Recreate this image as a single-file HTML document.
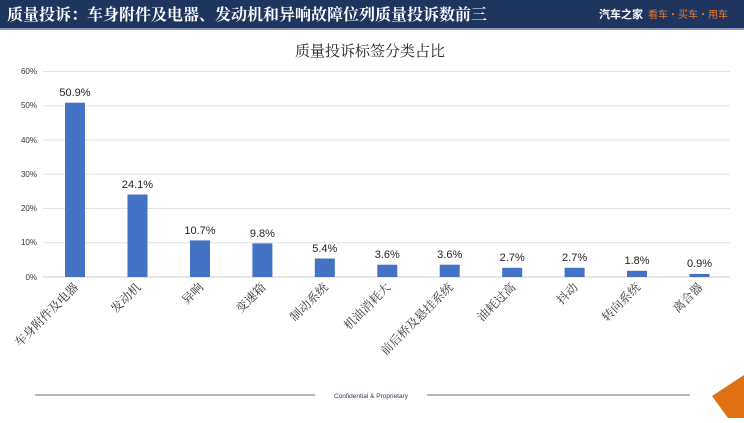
<!DOCTYPE html>
<html><head><meta charset="utf-8"><style>
body{margin:0;width:744px;height:418px;overflow:hidden;background:#fff;font-family:"Liberation Sans","Noto Sans CJK SC",sans-serif}
</style></head><body>
<svg width="744" height="418" xmlns="http://www.w3.org/2000/svg">
<rect x="0" y="0" width="744" height="28" fill="#1e3560"/>
<rect x="0" y="28" width="744" height="2" fill="#8a9bb8"/>
<text x="7" y="20" fill="#fff" font-size="16" font-family="Noto Serif CJK SC,serif" font-weight="bold">质量投诉：车身附件及电器、发动机和异响故障位列质量投诉数前三</text>
<text x="599" y="18" fill="#fff" font-size="11" font-weight="bold" font-family="Noto Sans CJK SC,sans-serif">汽车之家</text>
<text x="648" y="18" fill="#e8782a" font-size="10" font-family="Noto Sans CJK SC,sans-serif">看车·买车·用车</text>
<text x="370" y="56" text-anchor="middle" font-size="15" fill="#222" font-family="Noto Serif CJK SC,serif">质量投诉标签分类占比</text>
<g font-size="8" fill="#333" text-anchor="end">
<g stroke="#e2e2e2" stroke-width="1">
<line x1="43" x2="730" y1="71.5" y2="71.5"/><line x1="43" x2="730" y1="105.75" y2="105.75"/><line x1="43" x2="730" y1="140" y2="140"/><line x1="43" x2="730" y1="174.25" y2="174.25"/><line x1="43" x2="730" y1="208.5" y2="208.5"/><line x1="43" x2="730" y1="242.75" y2="242.75"/><line x1="43" x2="730" y1="277" y2="277" stroke="#ccc"/>
</g>
<text x="37" y="74">60%</text><text x="37" y="108">50%</text><text x="37" y="143">40%</text><text x="37" y="177">30%</text><text x="37" y="211">20%</text><text x="37" y="245">10%</text><text x="37" y="280">0%</text>
</g>
<g fill="#4472c4">
<rect x="65" y="102.7" width="20" height="174.3"/>
<rect x="127.5" y="194.5" width="20" height="82.5"/>
<rect x="190" y="240.4" width="20" height="36.6"/>
<rect x="252.4" y="243.4" width="20" height="33.6"/>
<rect x="314.8" y="258.5" width="20" height="18.5"/>
<rect x="377.3" y="264.7" width="20" height="12.3"/>
<rect x="439.7" y="264.7" width="20" height="12.3"/>
<rect x="502.2" y="267.8" width="20" height="9.2"/>
<rect x="564.6" y="267.8" width="20" height="9.2"/>
<rect x="627" y="270.8" width="20" height="6.2"/>
<rect x="689.5" y="273.9" width="20" height="3.1"/>
</g>
<g font-size="11" fill="#222" text-anchor="middle">
<text x="75" y="96">50.9%</text><text x="137.5" y="188">24.1%</text><text x="200" y="234">10.7%</text><text x="262.4" y="237">9.8%</text><text x="324.8" y="252">5.4%</text><text x="387.3" y="258">3.6%</text><text x="449.7" y="258">3.6%</text><text x="512.2" y="261">2.7%</text><text x="574.6" y="261">2.7%</text><text x="637" y="264">1.8%</text><text x="699.5" y="267">0.9%</text>
</g>
<g font-size="12" fill="#333" text-anchor="end" font-family="Noto Serif CJK SC,serif">
<text transform="translate(79,288) rotate(-45)">车身附件及电器</text>
<text transform="translate(141.5,288) rotate(-45)">发动机</text>
<text transform="translate(204,288) rotate(-45)">异响</text>
<text transform="translate(266.4,288) rotate(-45)">变速箱</text>
<text transform="translate(328.8,288) rotate(-45)">制动系统</text>
<text transform="translate(391.3,288) rotate(-45)">机油消耗大</text>
<text transform="translate(453.7,288) rotate(-45)">前后桥及悬挂系统</text>
<text transform="translate(516.2,288) rotate(-45)">油耗过高</text>
<text transform="translate(578.6,288) rotate(-45)">抖动</text>
<text transform="translate(641,288) rotate(-45)">转向系统</text>
<text transform="translate(703.5,288) rotate(-45)">离合器</text>
</g>
<line x1="35" x2="315" y1="395" y2="395" stroke="#9aa0a6" stroke-width="1.5"/>
<line x1="427" x2="690" y1="395" y2="395" stroke="#9aa0a6" stroke-width="1.5"/>
<text x="371" y="398" font-size="6.5" fill="#2b3a63" text-anchor="middle">Confidential &amp; Proprietary</text>
<polygon points="744,375 744,418 728,418 712,396" fill="#e07014"/>
</svg>
</body></html>
